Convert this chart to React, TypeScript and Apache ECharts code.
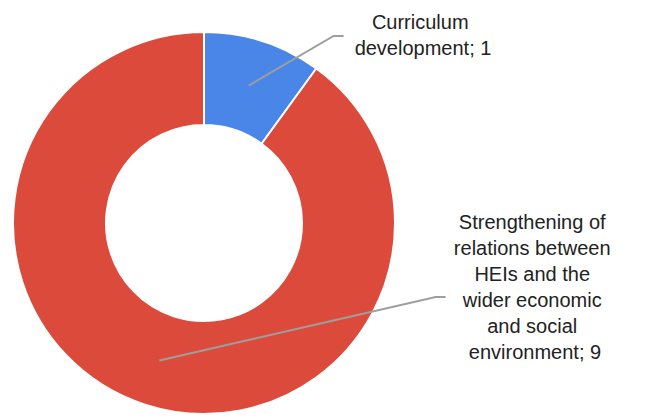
import React, { useEffect, useRef } from "react";
import * as echarts from "echarts";

const categories = [
  "Curriculum development",
  "Strengthening of relations between HEIs and the wider economic and social environment",
];
const values = [1, 9];
const colors = ["#4a86e8", "#dc4a3c"];
// label anchor positions (layout, px), wrap widths and leader-line end offsets
const labelAnchors = [
  { x: 423, y: 35, width: 145, lineDy: 1 },
  { x: 535, y: 287, width: 165, lineDy: 10 },
];

const CX = 204;
const CY = 223;
const R_IN = 98;
const R_OUT = 191;
const FONT_SIZE = 20;
const FONT_FAMILY = "Liberation Sans";

function widestLine(text: string, maxW: number): number {
  const ctx = document.createElement("canvas").getContext("2d")!;
  ctx.font = `${FONT_SIZE}px "${FONT_FAMILY}"`;
  const words = text.split(" ");
  const lines: string[] = [];
  let cur = "";
  for (const w of words) {
    const t = cur ? cur + " " + w : w;
    if (cur && ctx.measureText(t).width > maxW) {
      lines.push(cur);
      cur = w;
    } else cur = t;
  }
  lines.push(cur);
  return Math.max(...lines.map((l) => ctx.measureText(l).width));
}

export default function App() {
  const ref = useRef<HTMLDivElement>(null);
  useEffect(() => {
    document.body.style.margin = "0";
    const chart = echarts.init(ref.current!, undefined, { renderer: "svg" });
    const total = values.reduce((a, b) => a + b, 0);
    const midAngles: number[] = [];
    let acc = 0;
    values.forEach((v) => {
      midAngles.push(((acc + v / 2) / total) * Math.PI * 2);
      acc += v;
    });
    const labelTexts = categories.map((c, i) => `${c}; ${values[i]}`);
    const lineEnds = labelTexts.map((t, i) => {
      const w = widestLine(t, labelAnchors[i].width);
      return [labelAnchors[i].x - w / 2 - 11, labelAnchors[i].y + labelAnchors[i].lineDy];
    });
    chart.setOption({
      animation: false,
      backgroundColor: "#ffffff",
      series: [
        {
          type: "pie",
          z: 2,
          center: [CX, CY],
          radius: [R_IN, R_OUT],
          startAngle: 90,
          clockwise: true,
          avoidLabelOverlap: false,
          silent: true,
          itemStyle: { borderColor: "#ffffff", borderWidth: 2 },
          label: {
            show: true,
            position: "outside",
            formatter: "{b}; {c}",
            fontFamily: FONT_FAMILY,
            fontSize: FONT_SIZE,
            lineHeight: 26,
            color: "#222222",
            overflow: "break",
            align: "center",
          },
          labelLine: { show: false },
          labelLayout: (params: any) => {
            const a = labelAnchors[params.dataIndex];
            return { x: a.x, y: a.y, align: "center", verticalAlign: "middle" };
          },
          data: categories.map((name, i) => ({
            name,
            value: values[i],
            itemStyle: { color: colors[i] },
            label: { width: labelAnchors[i].width },
          })),
        },
        {
          type: "custom",
          coordinateSystem: "none",
          z: 20,
          silent: true,
          data: values.map((v, i) => [i, v]),
          renderItem: (params: any) => {
            const i = params.dataIndex;
            const th = midAngles[i];
            const rm = (R_IN + R_OUT) / 2;
            const sx = CX + rm * Math.sin(th);
            const sy = CY - rm * Math.cos(th);
            const [ex, ey] = lineEnds[i];
            return {
              type: "polyline",
              z2: 100,
              shape: {
                points: [
                  [sx, sy],
                  [ex - 10, ey],
                  [ex, ey],
                ],
              },
              style: { stroke: "#9e9e9e", lineWidth: 2, fill: "none" },
            };
          },
        },
      ],
    });
    return () => chart.dispose();
  }, []);
  return <div ref={ref} style={{ width: 646, height: 419 }} />;
}
